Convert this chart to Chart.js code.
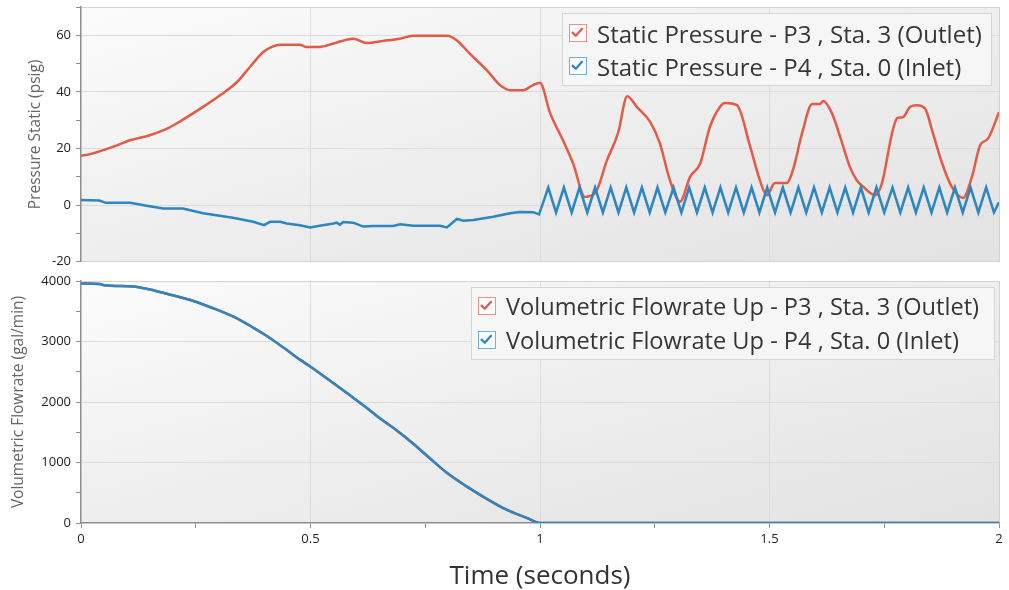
<!DOCTYPE html>
<html>
<head>
<meta charset="utf-8">
<title>Pressure and flowrate transient</title>
<script src="https://cdn.jsdelivr.net/npm/chart.js@4.4.1/dist/chart.umd.min.js"></script>
<style>
  html, body { margin: 0; padding: 0; background: #fff; overflow: hidden; }
  #page { position: relative; width: 1009px; height: 590px; font-family: "Open Sans", sans-serif; }
  .plot { position: absolute; left: 0; width: 1009px; }
  #topPlot { top: 0; height: 268px; }
  #bottomPlot { top: 268px; height: 322px; }
  .legend {
    position: absolute; box-sizing: border-box;
    background: rgba(246, 246, 246, 0.96); border: 1.5px solid #d6d6d6;
    padding-left: 5.5px;
  }
  #topLegend { left: 562px; top: 13px; width: 430px; height: 73px; padding-top: 2.7px; }
  #bottomLegend { left: 471px; top: 287px; width: 524px; height: 73px; padding-top: 1.2px; }
  .legend .item { display: flex; align-items: center; white-space: nowrap; font-size: 24px; color: #363636; }
  #topLegend .item { height: 33px; }
  #bottomLegend .item { height: 34px; font-size: 23.6px; }
  .check { width: 18px; height: 18px; box-sizing: border-box; border: 1.5px solid; margin-right: 10.5px; background: #fcfcfc; flex: none; }
  .check svg { display: block; }
</style>
</head>
<body>
<div id="page">
  <div class="plot" id="topPlot"><canvas id="pressureChart"></canvas></div>
  <div class="plot" id="bottomPlot"><canvas id="flowChart"></canvas></div>
  <div class="legend" id="topLegend"></div>
  <div class="legend" id="bottomLegend"></div>
</div>
<script>
// Static pressure, P3 outlet (psig)
const outletPressureTime = [0, 0.02, 0.07, 0.107, 0.15, 0.19, 0.222, 0.266, 0.303, 0.34,
  0.368, 0.397, 0.416, 0.434, 0.477, 0.49, 0.52, 0.55, 0.593, 0.623,
  0.658, 0.695, 0.723, 0.797, 0.819, 0.847, 0.884, 0.913, 0.935, 0.963,
  0.985, 1.0, 1.022, 1.05, 1.072, 1.098, 1.12, 1.146, 1.17, 1.19,
  1.211, 1.24, 1.261, 1.283, 1.305, 1.327, 1.349, 1.37, 1.392, 1.403,
  1.429, 1.458, 1.479, 1.494, 1.512, 1.538, 1.551, 1.571, 1.593, 1.61,
  1.617, 1.636, 1.654, 1.675, 1.69, 1.704, 1.73, 1.745, 1.767, 1.778,
  1.791, 1.806, 1.821, 1.839, 1.856, 1.876, 1.897, 1.922, 1.941, 1.959,
  1.976, 2.0];
const outletPressure = [17.4, 18.0, 20.6, 22.9, 24.7, 27.2, 30.2, 34.7, 38.8, 43.5,
  48.8, 54.1, 55.9, 56.7, 56.7, 55.9, 55.9, 57.1, 58.8, 57.3,
  58.0, 58.8, 59.8, 59.8, 58.2, 53.5, 47.7, 42.4, 40.6, 40.6,
  42.4, 43.2, 32.5, 22.9, 14.8, 2.9, 4.2, 15.9, 25.4, 38.5,
  34.7, 29.4, 21.9, 8.8, 1.2, 10.0, 14.7, 27.6, 34.7, 36.1,
  35.3, 20.6, 8.8, 3.5, 7.8, 7.8, 12.4, 25.4, 35.7, 35.7,
  36.8, 32.5, 24.1, 13.5, 8.8, 6.5, 3.5, 7.8, 25.4, 30.7,
  31.1, 34.7, 35.3, 34.1, 25.4, 14.8, 6.5, 2.5, 10.0, 21.2,
  23.5, 32.8];

// Static pressure, P4 inlet (psig): slow drift before the valve closes...
const inletPressureTime = [0, 0.04, 0.054, 0.107, 0.143, 0.179, 0.222, 0.266, 0.331, 0.375,
  0.399, 0.412, 0.434, 0.448, 0.477, 0.499, 0.52, 0.55, 0.557, 0.564,
  0.571, 0.593, 0.615, 0.637, 0.68, 0.695, 0.724, 0.782, 0.797, 0.819,
  0.833, 0.855, 0.898, 0.935, 0.956, 0.985, 0.998];
const inletPressure = [1.8, 1.6, 0.8, 0.8, -0.2, -1.2, -1.2, -2.9, -4.5, -5.9,
  -7.1, -5.9, -5.9, -6.5, -7.1, -7.9, -7.3, -6.5, -6.2, -6.9,
  -6.0, -6.2, -7.6, -7.4, -7.4, -6.8, -7.3, -7.3, -7.9, -4.9,
  -5.5, -5.3, -4.1, -2.9, -2.4, -2.5, -3.3];
// ...then peaks and troughs of the oscillation after t = 1 s
const inletWaveTime = [1.018, 1.035, 1.052, 1.069, 1.086, 1.103, 1.12, 1.137, 1.154, 1.171,
  1.188, 1.205, 1.222, 1.239, 1.256, 1.273, 1.291, 1.308, 1.325, 1.342,
  1.359, 1.376, 1.393, 1.41, 1.427, 1.444, 1.461, 1.478, 1.495, 1.512,
  1.529, 1.546, 1.563, 1.58, 1.597, 1.614, 1.631, 1.648, 1.665, 1.682,
  1.699, 1.716, 1.733, 1.75, 1.768, 1.785, 1.802, 1.819, 1.836, 1.853,
  1.87, 1.887, 1.904, 1.921, 1.938, 1.955, 1.972, 1.989, 2.0];
const inletWave = [6.2, -2.6, 6.2, -2.6, 6.2, -2.6, 6.2, -2.6, 6.2, -2.6,
  6.2, -2.6, 6.2, -2.6, 6.2, -2.6, 6.2, -2.6, 6.2, -2.6,
  6.2, -2.6, 6.2, -2.6, 6.2, -2.6, 6.2, -2.6, 6.2, -2.6,
  6.2, -2.6, 6.2, -2.6, 6.2, -2.6, 6.2, -2.6, 6.2, -2.6,
  6.2, -2.6, 6.2, -2.6, 6.2, -2.6, 6.2, -2.6, 6.2, -2.6,
  6.2, -2.6, 6.2, -2.6, 6.2, -2.6, 6.2, -2.6, 1.0];

// Volumetric flowrate up (gal/min), outlet and inlet lie on top of each other
const flowTime = [0, 0.041, 0.05, 0.114, 0.15, 0.187, 0.245, 0.288, 0.332, 0.375,
  0.405, 0.441, 0.477, 0.501, 0.55, 0.586, 0.623, 0.651, 0.688, 0.724,
  0.76, 0.797, 0.84, 0.884, 0.927, 0.971, 1.0, 2.0];
const flowrate = [3960, 3950, 3930, 3910, 3860, 3790, 3670, 3550, 3410, 3230,
  3090, 2900, 2700, 2580, 2310, 2110, 1900, 1730, 1530, 1310,
  1070, 830, 605, 400, 220, 85, 0, 0];

const timeTicks = [0, 0.5, 1, 1.5, 2];

const RED = "#e35b46";
const BLUE = "#2b86c2";
const AXIS = "#8e8e8e";
const GRID = "#dcdcdc";
const EDGE = "#d2d2d2";

const toPoints = (xs, ys) => xs.map((x, i) => ({ x: x, y: ys[i] }));

// diagonal gradient stretched over the plot area, corner to corner
const plotBackground = {
  id: "plotBackground",
  beforeDraw(chart) {
    const { ctx, chartArea: a } = chart;
    ctx.save();
    ctx.translate(a.left, a.top);
    ctx.scale(a.width, a.height);
    const g = ctx.createLinearGradient(0, 0, 1, 1);
    g.addColorStop(0, "#fbfbfb");
    g.addColorStop(0.5, "#eeeeee");
    g.addColorStop(1, "#e2e2e2");
    ctx.fillStyle = g;
    ctx.fillRect(0, 0, 1, 1);
    ctx.restore();
  },
};

// small lineHeight on the y labels so they don't push the plot area in
const yTickFont = { family: "Open Sans", size: 13, lineHeight: 0.2 };
const xTickFont = { family: "Open Sans", size: 13, lineHeight: 1 };
const axisTitleFont = { family: "Open Sans", size: 15.5 };

function checkSvg(color) {
  return `<svg width="15" height="15" viewBox="0 0 15 15"><path d="M2.6 7.6 L5.8 10.8 L12 3.8" fill="none" stroke="${color}" stroke-width="2.2" stroke-linecap="round" stroke-linejoin="round"/></svg>`;
}

function buildLegend(chart, id) {
  let list = ``;
  chart.data.datasets.forEach((ds) => {
    list += `<div class="item"><span class="check" style="border-color:${ds.boxColor}">${checkSvg(ds.borderColor)}</span>${ds.label}</div>`;
  });
  document.getElementById(id).innerHTML = list;
}

function yGrid(major, top) {
  return (ctx) => {
    const v = ctx.tick.value;
    if (v === top) return EDGE;
    return v % major === 0 && v !== ctx.scale.min ? GRID : "rgba(0,0,0,0)";
  };
}

function xGrid(ctx) {
  const v = ctx.tick.value;
  if (v === 2) return EDGE;
  return timeTicks.includes(v) && v !== 0 ? GRID : "rgba(0,0,0,0)";
}

const pressureChart = new Chart(document.getElementById("pressureChart"), {
  type: "line",
  data: {
    datasets: [
      {
        label: "Static Pressure - P3 , Sta. 3 (Outlet)",
        data: toPoints(outletPressureTime, outletPressure),
        borderColor: RED,
        boxColor: "rgba(227, 91, 70, 0.65)",
        cubicInterpolationMode: "monotone",
        order: 1,
      },
      {
        label: "Static Pressure - P4 , Sta. 0 (Inlet)",
        data: toPoints(inletPressureTime.concat(inletWaveTime), inletPressure.concat(inletWave)),
        borderColor: BLUE,
        boxColor: "rgba(43, 134, 194, 0.65)",
        tension: 0,
        order: 0,
      },
    ],
  },
  options: {
    animation: false,
    responsive: true,
    maintainAspectRatio: false,
    layout: { padding: { top: 7, right: 10, left: 0, bottom: 0 } },
    elements: { point: { radius: 0 }, line: { borderWidth: 2.5 } },
    plugins: { legend: { display: false }, tooltip: { enabled: false } },
    scales: {
      x: {
        type: "linear",
        min: 0,
        max: 2,
        ticks: { display: false, stepSize: 0.5 },
        grid: { color: xGrid, drawTicks: false },
        border: { color: EDGE, width: 1 },
        afterFit: (scale) => { scale.height = 6; },
      },
      y: {
        min: -20,
        max: 70,
        ticks: {
          stepSize: 10,
          padding: 5,
          color: "#222",
          font: yTickFont,
          callback: (v) => (v % 20 === 0 ? v : ""),
        },
        grid: { color: yGrid(20, 70), tickColor: AXIS, tickLength: 5 },
        border: { color: AXIS, width: 1.5 },
        title: {
          display: true,
          text: "Pressure Static (psig)",
          color: "#666",
          font: axisTitleFont,
          padding: { top: 26, bottom: 0 },
        },
        afterFit: (scale) => { scale.width = 81; },
      },
    },
  },
  plugins: [plotBackground],
});

const flowChart = new Chart(document.getElementById("flowChart"), {
  type: "line",
  data: {
    datasets: [
      {
        label: "Volumetric Flowrate Up - P3 , Sta. 3 (Outlet)",
        data: toPoints(flowTime, flowrate),
        borderColor: RED,
        boxColor: "rgba(227, 91, 70, 0.65)",
        cubicInterpolationMode: "monotone",
        order: 1,
      },
      {
        label: "Volumetric Flowrate Up - P4 , Sta. 0 (Inlet)",
        data: toPoints(flowTime, flowrate),
        borderColor: BLUE,
        boxColor: "rgba(43, 134, 194, 0.65)",
        cubicInterpolationMode: "monotone",
        order: 0,
      },
    ],
  },
  options: {
    animation: false,
    responsive: true,
    maintainAspectRatio: false,
    layout: { padding: { top: 13, right: 10, left: 0, bottom: 0 } },
    elements: { point: { radius: 0 }, line: { borderWidth: 2.5 } },
    plugins: { legend: { display: false }, tooltip: { enabled: false } },
    scales: {
      x: {
        type: "linear",
        min: 0,
        max: 2,
        ticks: {
          stepSize: 0.25,
          autoSkip: false,
          maxRotation: 0,
          padding: 5,
          color: "#222",
          font: xTickFont,
          callback: (v) => (timeTicks.includes(v) ? v : ""),
        },
        grid: { color: xGrid, tickColor: AXIS, tickLength: 5 },
        border: { color: AXIS, width: 1.5 },
        title: {
          display: true,
          text: "Time (seconds)",
          color: "#333",
          font: { family: "Open Sans", size: 26, lineHeight: 1 },
          padding: 0,
        },
        afterFit: (scale) => { scale.height = 67; },
      },
      y: {
        min: 0,
        max: 4000,
        ticks: {
          stepSize: 500,
          padding: 5,
          color: "#222",
          font: yTickFont,
          callback: (v) => (v % 1000 === 0 ? v : ""),
        },
        grid: { color: yGrid(1000, 4000), tickColor: AXIS, tickLength: 5 },
        border: { color: AXIS, width: 1.5 },
        title: {
          display: true,
          text: "Volumetric Flowrate (gal/min)",
          color: "#666",
          font: axisTitleFont,
          padding: { top: 9, bottom: 0 },
        },
        afterFit: (scale) => { scale.width = 81; },
      },
    },
  },
  plugins: [plotBackground],
});

buildLegend(pressureChart, "topLegend");
buildLegend(flowChart, "bottomLegend");
</script>
</body>
</html>
